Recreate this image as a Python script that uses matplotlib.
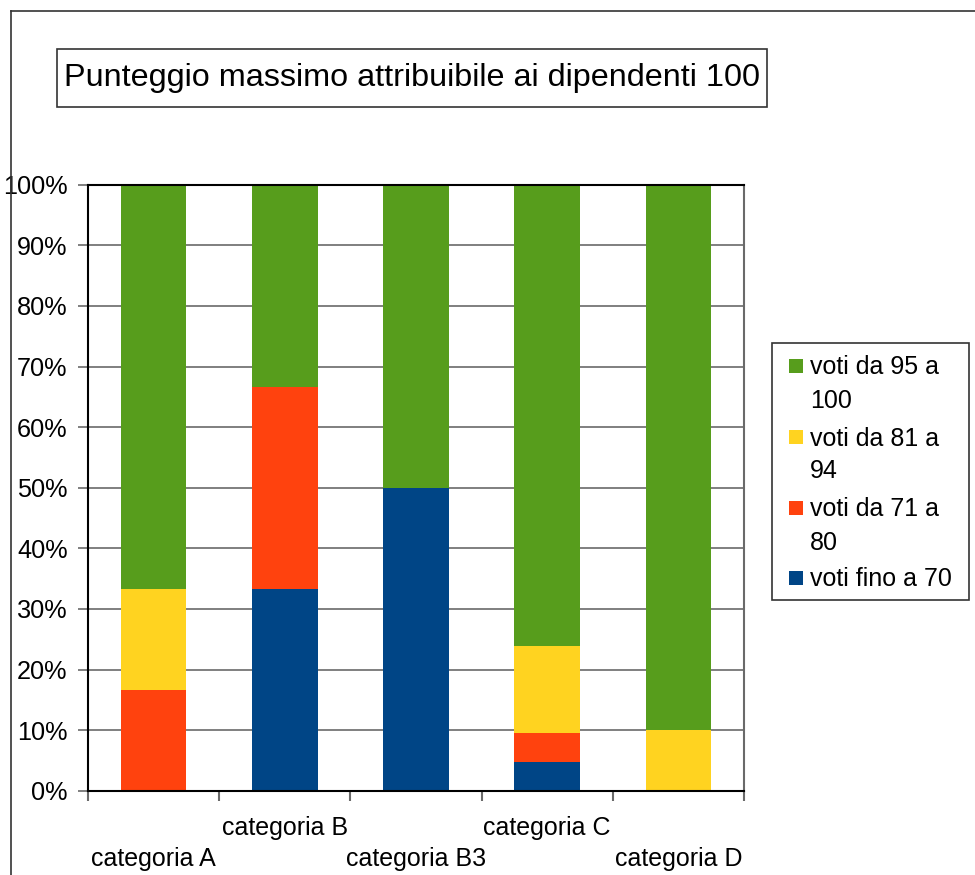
import numpy as np
import matplotlib
matplotlib.use('Agg')
import matplotlib.pyplot as plt
from matplotlib.patches import Rectangle
from matplotlib.lines import Line2D
from matplotlib.ticker import PercentFormatter

plt.rcParams['font.family'] = ['Liberation Sans', 'DejaVu Sans']

categories = ['categoria A', 'categoria B', 'categoria B3', 'categoria C', 'categoria D']
# number of employees in each score band
fino_70 = [0, 1, 1, 1, 0]
da_71_80 = [1, 1, 0, 1, 0]
da_81_94 = [1, 0, 0, 3, 1]
da_95_100 = [4, 1, 1, 16, 9]

series_labels = ['voti fino a 70', 'voti da 71 a\n80', 'voti da 81 a\n94', 'voti da 95 a\n100']
series_colors = ['#004586', '#ff420e', '#ffd320', '#579d1c']

W, H = 975, 875
fig = plt.figure(figsize=(W / 100, H / 100), dpi=100)

def px(x0, y0, x1, y1):
    # pixel box (top-left origin) -> figure fraction rect
    return [x0 / W, 1 - y1 / H, (x1 - x0) / W, (y1 - y0) / H]

ax = fig.add_axes(px(88, 184.7, 744, 790.7))

data = np.array([fino_70, da_71_80, da_81_94, da_95_100], dtype=float)
pct = data / data.sum(axis=0) * 100
x = np.arange(len(categories))

ax.set_axisbelow(True)
ax.yaxis.grid(True, color='#6a6a6a', lw=1.2)
bottom = np.zeros(len(categories))
for vals, col in zip(pct, series_colors):
    ax.bar(x, vals, width=0.5, bottom=bottom, color=col, edgecolor='none')
    bottom += vals

ax.set_xlim(-0.5, len(categories) - 0.5)
ax.set_ylim(0, 100)
ax.set_yticks(np.arange(0, 101, 10))
ax.yaxis.set_major_formatter(PercentFormatter(decimals=0))
ax.tick_params(axis='y', length=7.2, width=1.2, color='#6a6a6a', labelsize=18.2, pad=7.5)

# boundaries as major ticks, staggered labels as minor ticks
ax.set_xticks(np.arange(-0.5, len(categories), 1.0))
ax.set_xticklabels([])
stagger = [('\n' + c if i % 2 == 0 else c) for i, c in enumerate(categories)]
ax.set_xticks(x, stagger, minor=True)
ax.tick_params(axis='x', which='major', length=7.2, width=1.5, color='#6a6a6a')
ax.tick_params(axis='x', which='minor', length=0, labelsize=18, pad=18)
for t in ax.get_xticklabels(minor=True):
    t.set_linespacing(1.4)

for s in ['left', 'bottom', 'top']:
    ax.spines[s].set_color('black')
    ax.spines[s].set_linewidth(1.5)
ax.spines['right'].set_color('#6a6a6a')
ax.spines['right'].set_linewidth(1.5)

# outer frame (left and top edges visible)
fig.add_artist(Line2D([10.5 / W, 10.5 / W], [0, 1 - 10.5 / H], transform=fig.transFigure,
                      color='#333333', lw=1.2))
fig.add_artist(Line2D([10.5 / W, 1], [1 - 10.5 / H, 1 - 10.5 / H], transform=fig.transFigure,
                      color='#333333', lw=1.2))

# title box
r = px(57, 49, 767, 107)
fig.add_artist(Rectangle((r[0], r[1]), r[2], r[3], transform=fig.transFigure,
                         fill=False, edgecolor='#333333', lw=1.2))
fig.text(64 / W, 1 - 78 / H, 'Punteggio massimo attribuibile ai dipendenti 100',
         fontsize=23.3, ha='left', va='center')

# legend box
r = px(772, 343, 969, 600)
fig.add_artist(Rectangle((r[0], r[1]), r[2], r[3], transform=fig.transFigure,
                         fill=False, edgecolor='#333333', lw=1.2))
entry_y = [366, 437, 508, 578]
for yc, lab, col in zip(entry_y, series_labels[::-1], series_colors[::-1]):
    s = px(789, yc - 7, 803, yc + 7)
    fig.add_artist(Rectangle((s[0], s[1]), s[2], s[3], transform=fig.transFigure,
                             facecolor=col, edgecolor='none'))
    for k, line in enumerate(lab.split('\n')):
        fig.text(810 / W, 1 - (yc + 8.5 + 33 * k) / H, line, fontsize=18,
                 ha='left', va='baseline')

fig.savefig('out.png', dpi=100)
